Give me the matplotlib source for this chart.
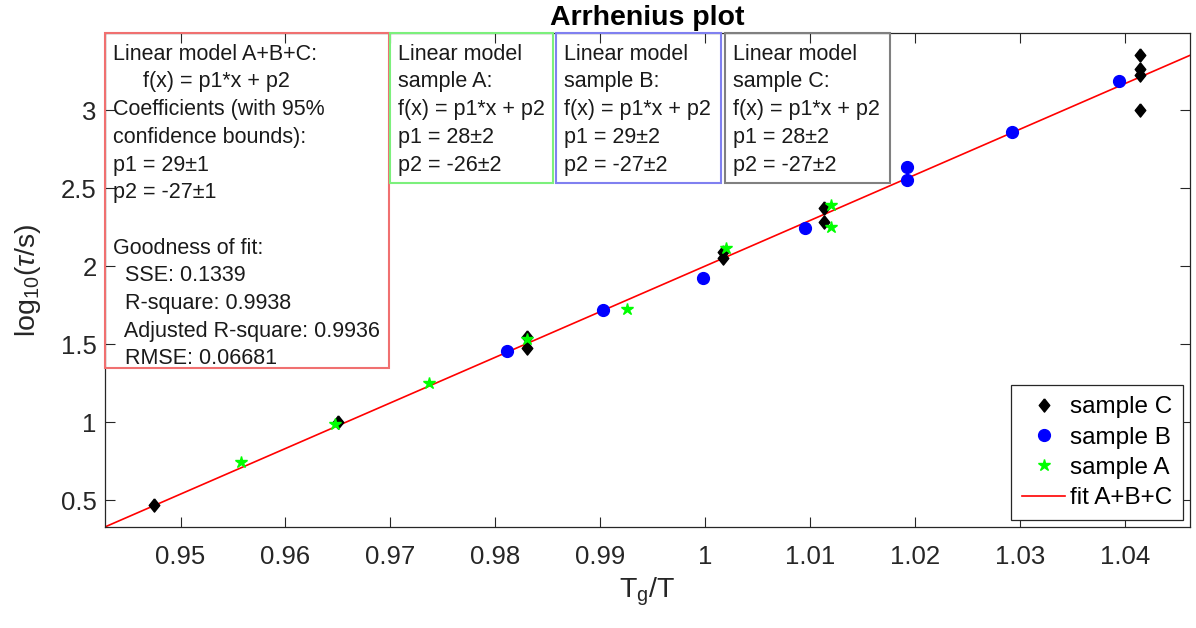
import matplotlib
matplotlib.use("Agg")
import matplotlib.pyplot as plt
from matplotlib.patches import Rectangle
import numpy as np

# ---- data -------------------------------------------------------------
sample_c_x = [0.9475, 0.9650, 0.9830, 0.9830, 1.0017, 1.0017, 1.0113, 1.0113,
              1.0414, 1.0414, 1.0414, 1.0414]
sample_c_y = [0.468, 0.998, 1.547, 1.472, 2.092, 2.049, 2.370, 2.284,
              3.353, 3.261, 3.224, 3.000]

sample_b_x = [0.9811, 0.9903, 0.9998, 1.0095, 1.0192, 1.0192, 1.0292, 1.0394]
sample_b_y = [1.457, 1.718, 1.921, 2.242, 2.633, 2.551, 2.861, 3.186]

sample_a_x = [0.9558, 0.9647, 0.9737, 0.9830, 0.9925, 1.0020, 1.0120, 1.0120]
sample_a_y = [0.742, 0.987, 1.248, 1.530, 1.724, 2.113, 2.391, 2.248]

# linear fit of all samples: log10(tau/s) = p1 * Tg/T + p2
fit_p1, fit_p1_err = 29.24, 1
fit_p2, fit_p2_err = -27.24, 1

# per-sample fits (p1, p1 error, p2, p2 error)
fit_a = (28, 2, -26, 2)
fit_b = (29, 2, -27, 2)
fit_c = (28, 2, -27, 2)

gof_sse = "0.1339"
gof_rsq = "0.9938"
gof_adj_rsq = "0.9936"
gof_rmse = "0.06681"

x_ticks = [0.95, 0.96, 0.97, 0.98, 0.99, 1.00, 1.01, 1.02, 1.03, 1.04]
x_tick_labels = ["0.95", "0.96", "0.97", "0.98", "0.99", "1", "1.01", "1.02", "1.03", "1.04"]
y_ticks = [0.5, 1.0, 1.5, 2.0, 2.5, 3.0]
y_tick_labels = ["0.5", "1", "1.5", "2", "2.5", "3"]

# ---- style ------------------------------------------------------------
FONT = "Liberation Sans"
plt.rcParams["font.family"] = [FONT, "DejaVu Sans"]
plt.rcParams["mathtext.fontset"] = "custom"
plt.rcParams["mathtext.rm"] = FONT
plt.rcParams["mathtext.it"] = FONT + ":italic"
plt.rcParams["mathtext.bf"] = FONT + ":bold"

AX_COLOR = "#262626"
W, H = 1196, 628
fig = plt.figure(figsize=(W / 100, H / 100), dpi=100)

ax_l, ax_r, ax_t, ax_b = 105, 1190, 33, 527
ax = fig.add_axes([ax_l / W, 1 - ax_b / H, (ax_r - ax_l) / W, (ax_b - ax_t) / H])

xlim = (0.9428, 1.0462)
ylim = (0.327, 3.494)

# fitted line over the whole x-range
xf = np.linspace(xlim[0], xlim[1], 200)
fit_line, = ax.plot(xf, fit_p1 * xf + fit_p2, color="red", lw=1.2, zorder=2,
                    label="fit A+B+C")

diamond = [(0, 1), (0.8, 0), (0, -1), (-0.8, 0), (0, 1)]
hc, = ax.plot(sample_c_x, sample_c_y, ls="none", marker=diamond, ms=9.5,
              color="black", mec="black", zorder=3, label="sample C")
hb, = ax.plot(sample_b_x, sample_b_y, ls="none", marker="o", ms=8.5,
              color="blue", mec="blue", zorder=4, label="sample B")
ha, = ax.plot(sample_a_x, sample_a_y, ls="none", marker="*", ms=9,
              color="#00ff00", mec="#00ff00", zorder=5, label="sample A")

ax.set_xlim(*xlim)
ax.set_ylim(*ylim)
ax.set_xticks(x_ticks)
ax.set_xticklabels(x_tick_labels)
ax.set_yticks(y_ticks)
ax.set_yticklabels(y_tick_labels)
ax.tick_params(direction="in", length=7, width=0.8, color=AX_COLOR,
               labelcolor=AX_COLOR, labelsize=18.5, top=True, right=True)
ax.tick_params(axis="x", pad=13)
ax.tick_params(axis="y", pad=6)
for sp in ax.spines.values():
    sp.set_color(AX_COLOR)
    sp.set_linewidth(0.9)

ax.set_title("Arrhenius plot", fontsize=20.5, fontweight="bold", pad=6)
ax.set_xlabel(r"T$_{\mathrm{g}}$/T", fontsize=20.5, color=AX_COLOR, labelpad=5)
ax.set_ylabel(r"log$_{10}$($\tau$/s)", fontsize=20.5, color=AX_COLOR, labelpad=13)

leg = ax.legend(handles=[hc, hb, ha, fit_line], loc="lower right",
                bbox_to_anchor=((1183 - ax_l) / (ax_r - ax_l), (ax_b - 520) / (ax_b - ax_t)),
                borderaxespad=0, fontsize=17.5, frameon=True, fancybox=False,
                edgecolor=AX_COLOR, framealpha=1, numpoints=1,
                handlelength=1.75, handletextpad=0.2, labelspacing=0.34,
                borderpad=0.45)
leg.get_frame().set_linewidth(0.9)


# ---- fit-result text boxes -------------------------------------------
def pm(p, e):
    return f"{p:.0f}\u00b1{e:.0f}"


def text_box(x0, x1, y0, y1, edge, lines, text_x, fs=15.5):
    fig.add_artist(Rectangle((x0 / W, 1 - y1 / H), (x1 - x0) / W, (y1 - y0) / H,
                             transform=fig.transFigure, fill=False,
                             edgecolor=edge, lw=1.5, zorder=6))
    y = 53.3
    for s in lines:
        fig.text(text_x / W, 1 - (y + 6.5) / H, s, fontsize=fs, va="baseline",
                 ha="left", color="#1a1a1a", zorder=7)
        y += 27.7


text_box(105, 389, 33, 368, "#f07070", [
    "Linear model A+B+C:",
    "     f(x) = p1*x + p2",
    "Coefficients (with 95%",
    "confidence bounds):",
    f"p1 = {pm(fit_p1, fit_p1_err)}",
    f"p2 = {pm(fit_p2, fit_p2_err)}",
    "",
    "Goodness of fit:",
    f"  SSE: {gof_sse}",
    f"  R-square: {gof_rsq}",
    f"  Adjusted R-square: {gof_adj_rsq}",
    f"  RMSE: {gof_rmse}",
], 113)

for (x0, x1, edge, name, fit, tx) in [
    (390, 553, "#7cf07c", "A", fit_a, 398),
    (556, 721, "#8080f0", "B", fit_b, 564),
    (725, 890, "#808080", "C", fit_c, 733),
]:
    text_box(x0, x1, 33, 182.5, edge, [
        "Linear model",
        f"sample {name}:",
        "f(x) = p1*x + p2",
        f"p1 = {pm(fit[0], fit[1])}",
        f"p2 = {pm(fit[2], fit[3])}",
    ], tx)

fig.savefig("out.png", dpi=100)
